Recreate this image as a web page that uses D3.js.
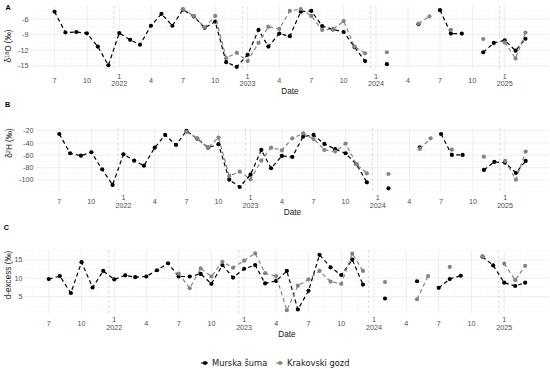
<!DOCTYPE html>
<html><head><meta charset="utf-8">
<script src="https://cdn.jsdelivr.net/npm/d3@7"></script>
<style>body{margin:0;background:#fff} svg{display:block}</style>
</head><body>
<svg id="chart" width="550" height="369"></svg>
<script>
// ---------- DATA ----------
const months = ["2021-07","2021-08","2021-09","2021-10","2021-11","2021-12",
  "2022-01","2022-02","2022-03","2022-04","2022-05","2022-06","2022-07","2022-08","2022-09","2022-10","2022-11","2022-12",
  "2023-01","2023-02","2023-03","2023-04","2023-05","2023-06","2023-07","2023-08","2023-09","2023-10","2023-11","2023-12",
  "2024-01","2024-02","2024-03","2024-04","2024-05","2024-06","2024-07","2024-08","2024-09","2024-10","2024-11","2024-12",
  "2025-01","2025-02","2025-03"];

const d18O_murska = [-4.6,-8.6,-8.5,-8.75,-11.3,-14.9,
  -8.7,-10.0,-10.95,-7.3,-5.0,-7.3,-4.2,-5.5,-7.7,-6.5,-14.3,-15.2,
  -12.9,-8.1,-11.3,-8.8,-9.3,-4.6,-4.45,-7.35,-8.0,-8.5,-11.4,-14.1,
  null,-14.7,null,null,-7.0,null,-4.3,-8.8,-8.8,null,-12.4,-10.6,
  -10.1,-12.1,-9.8];
const d18O_krakovski = [null,null,null,null,null,null,
  null,null,null,null,null,null,-4.1,-5.4,-7.6,-5.4,-13.5,-12.5,
  -14.1,-10.6,-7.5,-7.9,-4.45,-4.07,-5.4,-8.1,-8.0,-6.4,-11.3,-12.6,
  null,-12.4,null,null,-6.9,-5.5,null,-8.1,null,null,-9.85,null,
  -10.5,-13.6,-8.6];

const d2H_murska = [-25.4,-56.7,-60.6,-55,-82.7,-108,
  -58.4,-68.7,-76.8,-47.6,-27,-43.2,-20.5,-33,-47.6,-42,-99.5,-111.4,
  -91.4,-51.3,-81,-61,-62.7,-29.7,-27,-41.6,-50,-56.7,-74.5,-103.8,
  null,-113.6,null,null,-47,null,-25.4,-59.4,-59.4,null,-83.8,-70.8,
  -72,-88.7,-69.2];
const d2H_krakovski = [null,null,null,null,null,null,
  null,null,null,null,null,null,-22,-33,-47.6,-31.3,-93.5,-86.5,
  -99,-68.7,-47.6,-51.9,-32.4,-24.3,-33.5,-51.3,-54,-41,-74.5,-89.2,
  null,-90.3,null,null,-49.7,-32.4,null,-50.8,null,null,-62.2,null,
  -69.2,-99.5,-54];

const dexc_murska = [9.8,10.6,6.0,14.4,7.5,12.0,
  9.7,10.8,10.3,10.5,12.2,14.1,10.5,10.5,11.2,8.5,13.6,10.2,
  12.6,13.6,8.6,9.3,12.0,1.5,6.6,16.4,13.0,10.9,15.1,8.3,
  null,4.5,null,null,9.2,null,7.4,9.8,10.7,null,15.9,13.5,
  8.8,7.9,8.8];
const dexc_krakovski = [null,null,null,null,null,null,
  null,null,null,null,null,null,11.3,7.3,12.7,10.5,14.5,12.9,
  14.8,16.8,11.4,10.6,1.3,8.0,9.7,12.0,9.1,8.5,16.7,12.0,
  null,9.0,null,null,4.3,10.6,null,13.1,null,null,15.9,null,
  14.0,9.5,13.4];

const xTickMonths = ["2021-07","2021-10","2022-01","2022-04","2022-07","2022-10",
  "2023-01","2023-04","2023-07","2023-10","2024-01","2024-04","2024-07","2024-10","2025-01"];
const yearLines = ["2021-12-17","2022-12-17","2023-12-17","2024-12-17"];
const yTicksA = [-15,-12,-9,-6];
const yTicksB = [-100,-80,-60,-40,-20];
const yTicksC = [5,10,15];
const seriesNames = ["Murska šuma","Krakovski gozd"];

// ---------- DRAW ----------
const svg = d3.select("#chart");
const parseM = d3.timeParse("%Y-%m");
const parseD = d3.timeParse("%Y-%m-%d");
const dates = months.map(parseM);
const FONT = "'Liberation Sans', Arial, sans-serif";
const COL = ["#000000", "#848484"];

function expandExtent(arr) {
  const e = d3.extent(arr);
  const span = e[1] - e[0];
  return [e[0] - span * 0.05, e[1] + span * 0.05];
}

function panel(cfg) {
  const g = svg.append("g");
  const xDom = expandExtent(dates.map(d => +d));
  const x = d3.scaleTime().domain(xDom.map(v => new Date(v))).range([cfg.left, cfg.right]);
  const allVals = cfg.series.flat().filter(v => v != null);
  const y = d3.scaleLinear().domain(expandExtent(allVals)).range([cfg.bottom, cfg.top]);

  // minor grids
  const majX = xTickMonths.map(parseM);
  const minX = [];
  const ext = [new Date(+majX[0] - (majX[1] - majX[0])), ...majX, new Date(+majX[majX.length-1] + (majX[1]-majX[0]))];
  for (let i = 0; i < ext.length - 1; i++) {
    const m = new Date((+ext[i] + +ext[i+1]) / 2);
    if (m >= x.domain()[0] && m <= x.domain()[1]) minX.push(m);
  }
  const yt = cfg.yTicks;
  const step = yt[1] - yt[0];
  const minY = [];
  for (let v = yt[0] - step / 2; v <= yt[yt.length-1] + step; v += step) {
    if (v >= y.domain()[0] && v <= y.domain()[1]) minY.push(v);
  }
  g.selectAll(".mnx").data(minX).join("line")
    .attr("x1", d => x(d)).attr("x2", d => x(d)).attr("y1", cfg.top).attr("y2", cfg.bottom)
    .attr("stroke", "#f2f2f2").attr("stroke-width", 0.5);
  g.selectAll(".mny").data(minY).join("line")
    .attr("x1", cfg.left).attr("x2", cfg.right).attr("y1", d => y(d)).attr("y2", d => y(d))
    .attr("stroke", "#f2f2f2").attr("stroke-width", 0.5);
  g.selectAll(".mjx").data(majX).join("line")
    .attr("x1", d => x(d)).attr("x2", d => x(d)).attr("y1", cfg.top).attr("y2", cfg.bottom)
    .attr("stroke", "#e8e8e8").attr("stroke-width", 0.8);
  g.selectAll(".mjy").data(yt).join("line")
    .attr("x1", cfg.left).attr("x2", cfg.right).attr("y1", d => y(d)).attr("y2", d => y(d))
    .attr("stroke", "#e8e8e8").attr("stroke-width", 0.8);

  // year separators
  g.selectAll(".yl").data(yearLines.map(parseD)).join("line")
    .attr("x1", d => x(d)).attr("x2", d => x(d)).attr("y1", cfg.top).attr("y2", cfg.bottom)
    .attr("stroke", "#c4c4c4").attr("stroke-width", 0.7).attr("stroke-dasharray", "2.5,2.5");

  // y tick labels
  g.selectAll(".ytl").data(yt).join("text")
    .attr("x", cfg.left - 2.5).attr("y", d => y(d)).attr("dy", "0.35em")
    .attr("text-anchor", "end").attr("font-family", FONT).attr("font-size", 7.2)
    .attr("fill", "#4d4d4d").text(d => d);

  // x tick labels
  const xt = g.selectAll(".xtl").data(majX).join("text")
    .attr("text-anchor", "middle").attr("font-family", FONT).attr("font-size", 7.2)
    .attr("fill", "#4d4d4d");
  xt.each(function(d) {
    const t = d3.select(this);
    const mo = d.getMonth() + 1;
    if (mo === 1) {
      t.append("tspan").attr("x", x(d)).attr("y", cfg.bottom + 9).text(mo);
      t.append("tspan").attr("x", x(d)).attr("y", cfg.bottom + 16.5).text(d.getFullYear());
    } else {
      t.append("tspan").attr("x", x(d)).attr("y", cfg.bottom + 12.8).text(mo);
    }
  });

  // x title
  g.append("text").attr("x", (cfg.left + cfg.right) / 2).attr("y", cfg.bottom + 24)
    .attr("text-anchor", "middle").attr("font-family", FONT).attr("font-size", 8.2)
    .attr("fill", "#1a1a1a").text("Date");

  // y title
  const yt2 = g.append("text").attr("transform", `translate(${cfg.titleX},${cfg.titleY}) rotate(-90)`)
    .attr("text-anchor", "middle").attr("dy", "0.35em").attr("font-family", FONT).attr("font-size", 8.2)
    .attr("fill", "#1a1a1a");
  cfg.title(yt2);

  // panel tag
  g.append("text").attr("x", cfg.tagX).attr("y", cfg.tagY).attr("font-family", FONT)
    .attr("font-size", 7.2).attr("font-weight", "bold").attr("fill", "#000").text(cfg.tag);

  // series
  const line = d3.line().defined(d => d.v != null).x(d => x(d.date)).y(d => y(d.v));
  cfg.series.forEach((vals, si) => {
    const pts = vals.map((v, i) => ({date: dates[i], v}));
    g.append("path").datum(pts).attr("d", line).attr("fill", "none")
      .attr("stroke", COL[si]).attr("stroke-width", 1.2).attr("stroke-dasharray", "4,3");
    g.selectAll(".pt" + si).data(pts.filter(d => d.v != null)).join("circle")
      .attr("cx", d => x(d.date)).attr("cy", d => y(d.v)).attr("r", 2.1).attr("fill", COL[si]);
  });
}

function superTitle(pre, sup, post) {
  return t => {
    t.append("tspan").text(pre);
    t.append("tspan").attr("font-size", 5.5).attr("dy", "-0.45em").text(sup);
    t.append("tspan").attr("dy", "0.3em").text(post);
  };
}

panel({left: 31, right: 549, top: 6.1, bottom: 69.7, series: [d18O_murska, d18O_krakovski],
  yTicks: yTicksA, tag: "A", tagX: 5.5, tagY: 10, titleX: 8.5, titleY: 46,
  title: superTitle("δ", "18", "O (‰)")});
panel({left: 36, right: 549, top: 128.1, bottom: 191.2, series: [d2H_murska, d2H_krakovski],
  yTicks: yTicksB, tag: "B", tagX: 5, tagY: 107, titleX: 9.5, titleY: 143,
  title: superTitle("δ", "2", "H (‰)")});
panel({left: 25, right: 549, top: 250.5, bottom: 313.1, series: [dexc_murska, dexc_krakovski],
  yTicks: yTicksC, tag: "C", tagX: 3.8, tagY: 229.5, titleX: 8.5, titleY: 275,
  title: t => t.text("d-excess (‰)")});

// legend
const leg = svg.append("g");
const legX = [205, 280];
seriesNames.forEach((n, i) => {
  leg.append("line").attr("x1", legX[i] - 4).attr("x2", legX[i] + 3).attr("y1", 363).attr("y2", 363)
    .attr("stroke", COL[i]).attr("stroke-width", 1.1);
  leg.append("circle").attr("cx", legX[i]).attr("cy", 363).attr("r", 2).attr("fill", COL[i]);
  leg.append("text").attr("x", legX[i] + 7).attr("y", 363).attr("dy", "0.35em")
    .attr("font-family", "'DejaVu Sans', Verdana, sans-serif").attr("font-size", 8.3)
    .attr("fill", "#1a1a1a").text(n);
});
</script>
</body></html>
